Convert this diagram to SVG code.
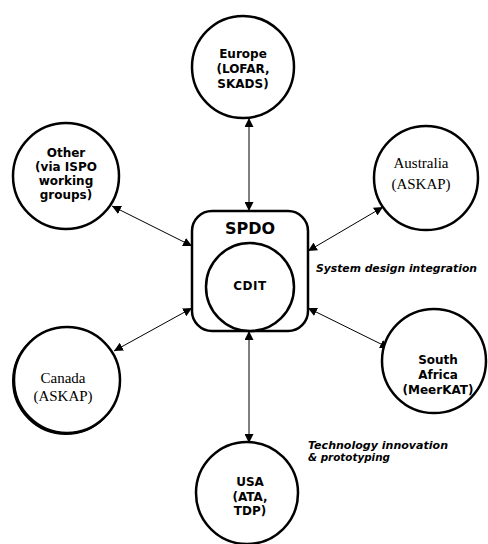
<svg xmlns="http://www.w3.org/2000/svg" width="488" height="544" viewBox="0 0 488 544">
<defs>
<marker id="ah" viewBox="0 0 10 10" refX="10" refY="5" markerWidth="9" markerHeight="9" markerUnits="userSpaceOnUse" orient="auto-start-reverse">
<path d="M0,0 L10,5 L0,10 z" fill="#000"/>
</marker>
</defs>
<style>
.n{fill:#fff;stroke:#000;stroke-width:2.5}
.s{font-family:"DejaVu Sans","Liberation Sans",Arial,sans-serif;font-weight:bold;font-size:12px;text-anchor:middle}
.r{font-family:"Liberation Serif","Times New Roman",serif;font-size:15px;text-anchor:middle}
.c{stroke:#000;stroke-width:1;fill:none;marker-start:url(#ah);marker-end:url(#ah)}
.i{font-family:"DejaVu Sans","Liberation Sans",Arial,sans-serif;font-weight:bold;font-style:italic;font-size:10.5px}
</style>
<rect width="488" height="544" fill="#fff"/>
<g id="connectors">
<line class="c" x1="249" y1="118" x2="249" y2="211"/>
<line class="c" x1="112" y1="206" x2="192" y2="246"/>
<line class="c" x1="308" y1="251" x2="383" y2="207"/>
<line class="c" x1="192" y1="308" x2="114" y2="351"/>
<line class="c" x1="308" y1="308" x2="389" y2="348"/>
<line class="c" x1="249" y1="331" x2="249" y2="443"/>
</g>
<g id="europe">
<circle class="n" cx="243" cy="67" r="51"/>
<text class="s" x="243" y="58">Europe</text>
<text class="s" x="243" y="73">(LOFAR,</text>
<text class="s" x="243" y="88">SKADS)</text>
</g>
<g id="other">
<circle class="n" cx="66" cy="176" r="53"/>
<text class="s" x="66" y="157">Other</text>
<text class="s" x="66" y="171">(via ISPO</text>
<text class="s" x="66" y="185">working</text>
<text class="s" x="66" y="199">groups)</text>
</g>
<g id="australia">
<circle class="n" cx="426" cy="178" r="52"/>
<text class="r" x="421" y="168">Australia</text>
<text class="r" x="421" y="189">(ASKAP)</text>
</g>
<g id="spdo">
<rect class="n" x="192" y="211" width="116" height="120" rx="20"/>
<text class="s" x="250" y="234" style="font-size:16px">SPDO</text>
</g>
<g id="cdit">
<circle class="n" cx="250" cy="287" r="44"/>
<text class="s" x="250" y="290" style="letter-spacing:0.5px">CDIT</text>
</g>
<g id="canada">
<circle cx="66" cy="381" r="53" fill="none" stroke="#000" stroke-width="2"/>
<circle class="n" cx="67" cy="380" r="53"/>
<text class="r" x="63" y="383">Canada</text>
<text class="r" x="63" y="401">(ASKAP)</text>
</g>
<g id="southafrica">
<circle class="n" cx="434" cy="361" r="52"/>
<text class="s" x="438" y="364">South</text>
<text class="s" x="438" y="379">Africa</text>
<text class="s" x="438" y="394">(MeerKAT)</text>
</g>
<g id="usa">
<circle class="n" cx="247" cy="493" r="51"/>
<text class="s" x="250" y="486">USA</text>
<text class="s" x="250" y="501">(ATA,</text>
<text class="s" x="250" y="515">TDP)</text>
</g>
<g id="labels">
<text class="i" x="316" y="272" textLength="161" lengthAdjust="spacingAndGlyphs">System design integration</text>
<text class="i" x="308" y="449" textLength="140" lengthAdjust="spacingAndGlyphs">Technology innovation</text>
<text class="i" x="308" y="461" textLength="82" lengthAdjust="spacingAndGlyphs">&amp; prototyping</text>
</g>
</svg>
